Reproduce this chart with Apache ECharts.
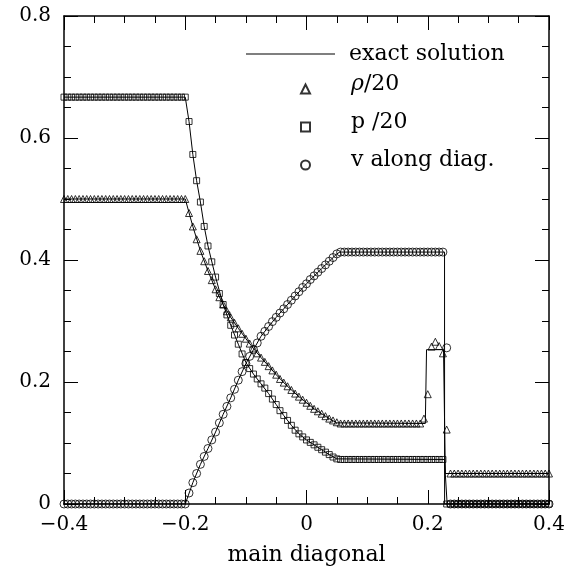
<!DOCTYPE html>
<html>
<head>
<meta charset="utf-8">
<script src="https://cdn.jsdelivr.net/npm/echarts@6/dist/echarts.min.js"></script>
<style>
html,body{margin:0;padding:0;background:#fff;}
#chart{width:579px;height:571px;}
</style>
</head>
<body>
<div id="chart"></div>
<script>
// ---- data ----
const xs = [
-0.4,-0.39375,-0.3875,-0.38125,-0.375,-0.36875,-0.3625,-0.35625,-0.35,-0.34375,
-0.3375,-0.33125,-0.325,-0.31875,-0.3125,-0.30625,-0.3,-0.29375,-0.2875,-0.28125,
-0.275,-0.26875,-0.2625,-0.25625,-0.25,-0.24375,-0.2375,-0.23125,-0.225,-0.21875,
-0.2125,-0.20625,-0.2,-0.19375,-0.1875,-0.18125,-0.175,-0.16875,-0.1625,-0.15625,
-0.15,-0.14375,-0.1375,-0.13125,-0.125,-0.11875,-0.1125,-0.10625,-0.1,-0.09375,
-0.0875,-0.08125,-0.075,-0.06875,-0.0625,-0.05625,-0.05,-0.04375,-0.0375,-0.03125,
-0.025,-0.01875,-0.0125,-0.00625,0,0.00625,0.0125,0.01875,0.025,0.03125,
0.0375,0.04375,0.05,0.05625,0.0625,0.06875,0.075,0.08125,0.0875,0.09375,
0.1,0.10625,0.1125,0.11875,0.125,0.13125,0.1375,0.14375,0.15,0.15625,
0.1625,0.16875,0.175,0.18125,0.1875,0.19375,0.2,0.20625,0.2125,0.21875,
0.225,0.23125,0.2375,0.24375,0.25,0.25625,0.2625,0.26875,0.275,0.28125,
0.2875,0.29375,0.3,0.30625,0.3125,0.31875,0.325,0.33125,0.3375,0.34375,
0.35,0.35625,0.3625,0.36875,0.375,0.38125,0.3875,0.39375,0.4
];
const rho20 = [
0.5,0.5,0.5,0.5,0.5,0.5,0.5,0.5,0.5,0.5,
0.5,0.5,0.5,0.5,0.5,0.5,0.5,0.5,0.5,0.5,
0.5,0.5,0.5,0.5,0.5,0.5,0.5,0.5,0.5,0.5,
0.5,0.5,
0.500,0.477,0.455,0.434,0.415,0.398,0.382,0.367,0.352,0.339,
0.327,0.316,0.306,0.297,0.288,0.279,0.271,0.263,0.255,0.247,
0.240,0.233,0.226,0.219,0.212,0.205,0.199,0.193,0.187,0.181,
0.176,0.171,0.166,0.161,0.156,0.152,0.148,0.144,0.140,0.137,
0.134,
0.132,0.132,0.132,0.132,0.132,0.132,0.132,0.132,0.132,0.132,
0.132,0.132,0.132,0.132,0.132,0.132,0.132,0.132,0.132,0.132,
0.132,0.132,
0.140,0.180,0.258,0.266,0.259,0.247,0.122,
0.05,0.05,0.05,0.05,0.05,0.05,0.05,0.05,0.05,0.05,
0.05,0.05,0.05,0.05,0.05,0.05,0.05,0.05,0.05,0.05,
0.05,0.05,0.05,0.05,0.05,0.05,0.05
];
const p20 = [
0.667,0.667,0.667,0.667,0.667,0.667,0.667,0.667,0.667,0.667,
0.667,0.667,0.667,0.667,0.667,0.667,0.667,0.667,0.667,0.667,
0.667,0.667,0.667,0.667,0.667,0.667,0.667,0.667,0.667,0.667,
0.667,0.667,
0.667,0.627,0.573,0.530,0.495,0.455,0.423,0.397,0.372,0.345,
0.327,0.310,0.293,0.277,0.262,0.246,0.232,0.222,0.213,0.205,
0.197,0.190,0.181,0.172,0.163,0.153,0.145,0.137,0.129,0.121,
0.115,0.110,0.105,0.101,0.097,0.093,0.089,0.085,0.081,0.077,
0.074,
0.073,0.073,0.073,0.073,0.073,0.073,0.073,0.073,0.073,0.073,
0.073,0.073,0.073,0.073,0.073,0.073,0.073,0.073,0.073,0.073,
0.073,0.073,0.073,0.073,0.073,0.073,0.073,0.073,
0,0,0,0,0,0,0,0,0,0,
0,0,0,0,0,0,0,0,0,0,
0,0,0,0,0,0,0,0
];
const vDiag = [
0,0,0,0,0,0,0,0,0,0,
0,0,0,0,0,0,0,0,0,0,
0,0,0,0,0,0,0,0,0,0,
0,0,
0.000,0.018,0.035,0.050,0.065,0.078,0.091,0.105,0.118,0.133,
0.147,0.160,0.174,0.188,0.203,0.217,0.230,0.242,0.253,0.264,
0.275,0.283,0.291,0.299,0.306,0.313,0.320,0.327,0.334,0.341,
0.348,0.355,0.361,0.368,0.374,0.380,0.386,0.392,0.398,0.404,
0.410,
0.413,0.413,0.413,0.413,0.413,0.413,0.413,0.413,0.413,0.413,
0.413,0.413,0.413,0.413,0.413,0.413,0.413,0.413,0.413,0.413,
0.413,0.413,0.413,0.413,0.413,0.413,0.413,0.413,
0.256,
0,0,0,0,0,0,0,0,0,0,
0,0,0,0,0,0,0,0,0,0,
0,0,0,0,0,0,0
];
const exactRho = [[-0.4,0.5],[-0.2,0.5],[-0.1875,0.455],[-0.175,0.415],[-0.1625,0.382],[-0.15,0.352],
[-0.1375,0.327],[-0.125,0.306],[-0.1125,0.288],[-0.1,0.271],[-0.0875,0.255],[-0.075,0.24],[-0.0625,0.226],
[-0.05,0.212],[-0.0375,0.199],[-0.025,0.187],[-0.0125,0.176],[0,0.166],[0.0125,0.156],[0.025,0.148],
[0.0375,0.14],[0.05,0.133],[0.196,0.132],[0.198,0.253],[0.226,0.253],[0.229,0.05],[0.4,0.05]];
const exactP = [[-0.4,0.667],[-0.2,0.667],[-0.19375,0.627],[-0.1875,0.573],[-0.18125,0.53],[-0.175,0.495],
[-0.16875,0.455],[-0.1625,0.423],[-0.15,0.372],[-0.1375,0.327],[-0.125,0.293],[-0.1125,0.262],[-0.1,0.232],
[-0.0875,0.213],[-0.075,0.197],[-0.0625,0.181],[-0.05,0.163],[-0.0375,0.145],[-0.025,0.129],[-0.0125,0.115],
[0,0.105],[0.0125,0.097],[0.025,0.089],[0.0375,0.081],[0.05,0.074],[0.2275,0.073],[0.232,0],[0.4,0]];
const exactV = [[-0.4,0],[-0.2,0],[-0.1875,0.035],[-0.175,0.065],[-0.1625,0.091],[-0.15,0.118],[-0.1375,0.147],
[-0.125,0.174],[-0.1125,0.203],[-0.1,0.23],[-0.0875,0.253],[-0.075,0.275],[-0.0625,0.291],[-0.05,0.306],
[-0.025,0.334],[0,0.361],[0.025,0.386],[0.05,0.41],[0.055,0.413],[0.2277,0.413],[0.2278,0],[0.4,0]];
const xTickLabels = {'-0.4':'\u22120.4','-0.2':'\u22120.2','0':'0','0.2':'0.2','0.4':'0.4'};
const yTickLabels = {'0':'0','0.2':'0.2','0.4':'0.4','0.6':'0.6','0.8':'0.8'};
const seriesNames = ['exact solution','ρ/20','p /20','v along diag.'];
const legendIcons = ['rect','triangle','rect','circle'];
const xName = 'main diagonal';

// ---- chart ----
const FONT = 'DejaVu Serif';
const chart = echarts.init(document.getElementById('chart'), null, {renderer:'canvas'});
function pairs(ys){ return xs.map((x,i)=>[x, ys[i]]); }
function fmt(map){ return v => { const k = String(Math.round(v*10)/10); return map[k] !== undefined ? map[k] : ''; }; }
function axisCommon(){
  return {
    axisLine:{show:true,onZero:false,lineStyle:{color:'#000',width:1.5}},
    axisTick:{show:true,inside:true,length:14,lineStyle:{color:'#000',width:1}},
    minorTick:{show:true,splitNumber:4,length:7,lineStyle:{color:'#000',width:1}},
    splitLine:{show:false},
    minorSplitLine:{show:false}
  };
}
const markerStyle = {color:'rgba(0,0,0,0)',borderColor:'#000',borderWidth:1};
const option = {
  animation:false,
  backgroundColor:'#fff',
  grid:{left:64,right:30,top:16,bottom:62,containLabel:false},
  xAxis:[
    Object.assign({type:'value',position:'bottom',min:-0.4,max:0.4,interval:0.2,
      name:xName,nameLocation:'middle',nameGap:40,
      nameTextStyle:{fontFamily:FONT,fontSize:22,color:'#000'},
      axisLabel:{show:true,margin:11,fontFamily:FONT,fontSize:20,color:'#000',formatter:fmt(xTickLabels)}},axisCommon()),
    Object.assign({type:'value',position:'top',min:-0.4,max:0.4,interval:0.2,
      axisLabel:{show:false}},axisCommon())
  ],
  yAxis:[
    Object.assign({type:'value',position:'left',min:0,max:0.8,interval:0.2,
      axisLabel:{show:true,margin:13,fontFamily:FONT,fontSize:20,color:'#000',formatter:fmt(yTickLabels)}},axisCommon()),
    Object.assign({type:'value',position:'right',min:0,max:0.8,interval:0.2,
      axisLabel:{show:false}},axisCommon())
  ],
  legend:[
    {data:[{name:seriesNames[0],icon:legendIcons[0],itemStyle:{color:'#000',borderWidth:0}}],
      left:246,top:43,padding:0,itemWidth:89,itemHeight:1,
      textStyle:{fontFamily:FONT,fontSize:22,color:'#000',padding:[0,0,0,9]}},
    {data:seriesNames.slice(1).map((n,i)=>({name:n,icon:legendIcons[i+1]})),
      orient:'vertical',left:300,top:73,padding:0,itemWidth:9,itemHeight:9,itemGap:16,
      formatter:n => n==='ρ/20' ? '{it|ρ}/20' : n,
      textStyle:{fontFamily:FONT,fontSize:22,color:'#000',padding:[0,0,10,36],
        rich:{it:{fontFamily:FONT,fontSize:22,fontStyle:'italic',color:'#000'}}}}
  ],
  series:[
    {name:seriesNames[1],type:'scatter',symbol:'triangle',symbolSize:7,data:pairs(rho20),itemStyle:markerStyle},
    {name:seriesNames[2],type:'scatter',symbol:'rect',symbolSize:6,data:pairs(p20),itemStyle:markerStyle},
    {name:seriesNames[3],type:'scatter',symbol:'circle',symbolSize:8,data:pairs(vDiag),itemStyle:markerStyle},
    {name:seriesNames[0],type:'line',symbol:'none',data:exactRho,lineStyle:{color:'#000',width:1},itemStyle:{color:'#000'}},
    {name:seriesNames[0],type:'line',symbol:'none',data:exactP,lineStyle:{color:'#000',width:1},itemStyle:{color:'#000'}},
    {name:seriesNames[0],type:'line',symbol:'none',data:exactV,lineStyle:{color:'#000',width:1},itemStyle:{color:'#000'}}
  ]
};
chart.setOption(option);
</script>
</body>
</html>
